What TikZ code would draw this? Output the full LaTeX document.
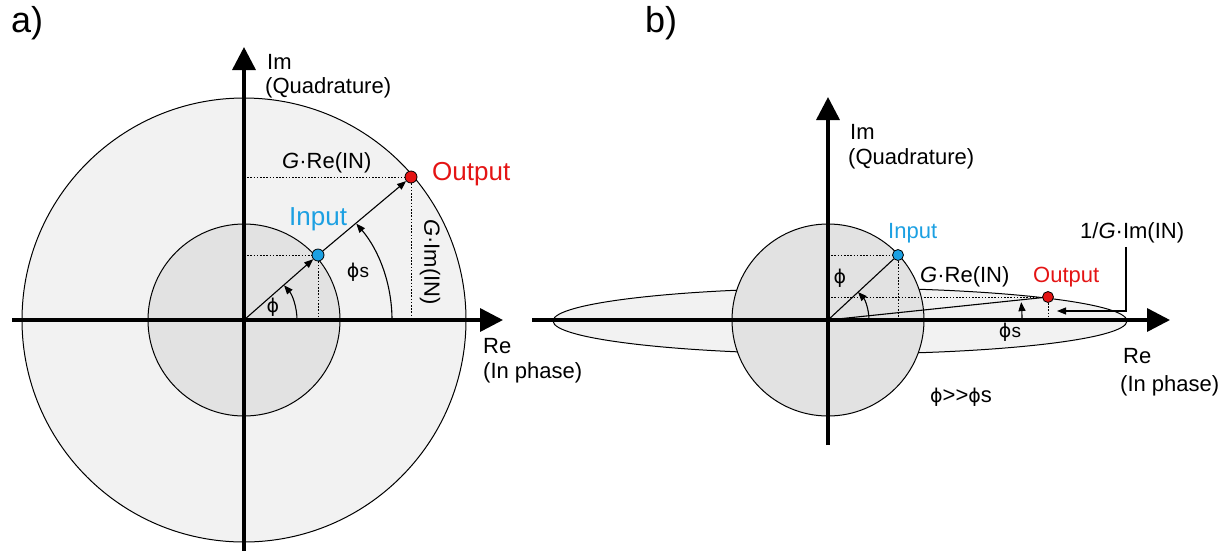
\documentclass[tikz,border=0pt]{standalone}
\usepackage{fontspec}
\setmainfont{Liberation Sans}
\newfontfamily\phifont{DejaVu Sans}
\usetikzlibrary{arrows.meta,calc}
\definecolor{outerfill}{RGB}{242,242,242}
\definecolor{innerfill}{RGB}{226,226,226}
\definecolor{inblue}{RGB}{28,160,226}
\definecolor{outred}{RGB}{228,20,20}
\newcommand{\ph}{{\phifont\fontsize{19}{22}\selectfont ϕ}}
\begin{document}
\begin{tikzpicture}[x=1pt,y=-1pt,
  axis/.style={line width=3.5pt,-{Triangle[length=23pt,width=23pt]}},
  vec/.style={line width=1.1pt},
  vecarrow/.style={vec,-{Triangle[length=9pt,width=7pt]}},
  guide/.style={line width=0.9pt,dash pattern=on 1.6pt off 1.6pt},
  rim/.style={line width=1pt},
  dot/.style={circle,draw,line width=0.8pt,minimum size=12pt,inner sep=0pt},
  lbl/.style={font=\fontsize{22}{26}\selectfont,inner sep=0pt,anchor=base west},
  big/.style={font=\fontsize{26}{30}\selectfont,inner sep=0pt,anchor=base west},
  panel/.style={font=\fontsize{36}{40}\selectfont,inner sep=0pt,anchor=west}]
\useasboundingbox (0,0) rectangle (1231,550);

% ---------------- panel a ----------------
\coordinate (oa) at (244,320);
\draw[rim,fill=outerfill] (oa) circle[radius=222];
\draw[rim,fill=innerfill] (oa) circle[radius=96];
\node[dot,fill=inblue] (ina) at (318,255) {};
\node[dot,fill=outred] (outa) at (411,177) {};
\draw[guide] (oa |- ina) -- (ina);
\draw[guide] (ina) -- (ina |- oa);
\draw[guide] (oa |- outa) -- (outa);
\draw[guide] (outa) -- (outa |- oa);
\coordinate (axaL) at (12,320);
\coordinate (axaR) at (503,320);
\coordinate (axaB) at (244,552);
\coordinate (axaT) at (244,47);
\draw[axis] (axaL) -- (axaR);
\draw[axis] (axaB) -- (axaT);
\draw[vecarrow] (oa) -- (ina);
\draw[vecarrow] (ina) -- (outa);
\draw[vecarrow] ($(oa)+(53,0)$) arc[start angle=0,end angle=-41,radius=53];
\draw[vecarrow] ($(oa)+(148,0)$) arc[start angle=0,end angle=-40.6,radius=148];

\node[panel] (la) at (11,23) {a)};
\node[lbl] (ima) at (267,69) {Im};
\node[lbl] (quada) at (265,93) {(Quadrature)};
\node[lbl] (rea) at (483,353) {Re};
\node[lbl] (phasea) at (483,378) {(In phase)};
\node[lbl] (grea) at (282,168) {\textit{G}·Re(IN)};
\node[lbl,anchor=center,rotate=-90] (gima) at (430,262) {\textit{G}·Im(IN)};
\node[big,text=outred] (outla) at (432,180) {Output};
\node[big,text=inblue] (inla) at (289,225) {Input};
\node[inner sep=0pt] (phia) at (273,307) {\ph};
\node[inner sep=0pt] (phisa) at (358,272) {\ph\fontsize{19}{22}\selectfont s};

% ---------------- panel b ----------------
\coordinate (ob) at (828,320);
\draw[rim,fill=outerfill] (840,321) ellipse[x radius=287,y radius=33];
\draw[rim,fill=innerfill] (ob) circle[radius=96];
\node[dot,fill=inblue,minimum size=11pt] (inb) at (898,255) {};
\node[dot,fill=outred,minimum size=11pt] (outb) at (1048,297) {};
\draw[guide] (ob |- inb) -- (inb);
\draw[guide] (inb) -- (inb |- ob);
\draw[guide] (ob |- outb) -- (outb);
\draw[guide] (outb) -- (outb |- ob);
\coordinate (axbL) at (532,320);
\coordinate (axbR) at (1170,320);
\coordinate (axbB) at (828,445);
\coordinate (axbT) at (828,97);
\draw[axis] (axbL) -- (axbR);
\draw[axis] (axbB) -- (axbT);
\draw[vec] (ob) -- (inb);
\draw[vec] (ob) -- (outb);
\draw[vecarrow] ($(ob)+(41,0)$) arc[start angle=0,end angle=-43,radius=41];
\draw[vecarrow] ($(ob)+(194,0)$) arc[start angle=0,end angle=-5.3,radius=194];

\node[panel] (lb) at (645,23) {b)};
\node[lbl] (imb) at (850,139) {Im};
\node[lbl] (quadb) at (848,164) {(Quadrature)};
\node[lbl] (reb) at (1123,363) {Re};
\node[lbl] (phaseb) at (1120,391) {(In phase)};
\node[lbl,text=inblue] (inlb) at (888,238) {Input};
\node[lbl] (gimb) at (1080,238) {1/\textit{G}·Im(IN)};
\node[lbl] (greb) at (920,282) {\textit{G}·Re(IN)};
\node[lbl,text=outred] (outlb) at (1033,282) {Output};
\node[inner sep=0pt] (phib) at (840,278) {\ph};
\node[inner sep=0pt] (phisb) at (1010,332) {\ph\fontsize{19}{22}\selectfont s};
\node[inner sep=0pt,font=\fontsize{22}{26}\selectfont] (relb) at (961,397) {\ph>\kern0pt>\ph s};
\coordinate (ldc) at (1126,311);
\coordinate (ldt) at (1057,311);
\draw[vec,-{Triangle[length=9pt,width=7pt]}] (gimb.south -| ldc) ++(0,4) -- (ldc) -- (ldt);
\end{tikzpicture}
\end{document}
